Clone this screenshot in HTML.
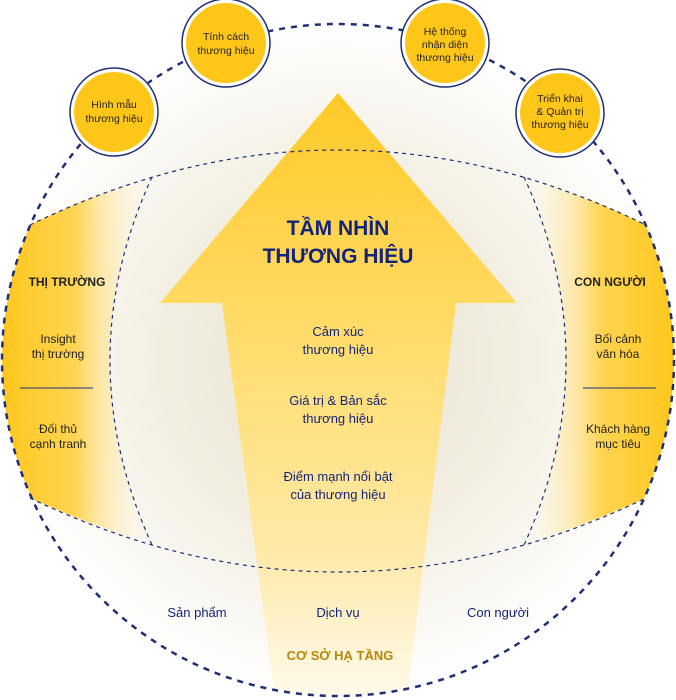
<!DOCTYPE html>
<html><head><meta charset="utf-8"><style>
html,body{margin:0;padding:0;background:#fff;}
svg{display:block;font-family:"Liberation Sans","Noto Sans CJK SC",sans-serif;}
</style></head><body>
<svg width="676" height="700" viewBox="0 0 676 700" xmlns="http://www.w3.org/2000/svg">
<defs>
<radialGradient id="bg" cx="338" cy="360" r="340" gradientUnits="userSpaceOnUse">
<stop offset="0" stop-color="#e6e1d2"/><stop offset="0.55" stop-color="#f3efe2"/><stop offset="1" stop-color="#ffffff"/>
</radialGradient>
<linearGradient id="lg" x1="0" y1="0" x2="150" y2="0" gradientUnits="userSpaceOnUse">
<stop offset="0" stop-color="#ffc61a"/><stop offset="0.5" stop-color="#ffd452"/><stop offset="1" stop-color="#fff6dc" stop-opacity="0"/>
</linearGradient>
<linearGradient id="rg" x1="676" y1="0" x2="526" y2="0" gradientUnits="userSpaceOnUse">
<stop offset="0" stop-color="#ffc61a"/><stop offset="0.5" stop-color="#ffd452"/><stop offset="1" stop-color="#fff6dc" stop-opacity="0"/>
</linearGradient>
<linearGradient id="ag" x1="0" y1="93" x2="0" y2="697" gradientUnits="userSpaceOnUse">
<stop offset="0" stop-color="#ffc926"/><stop offset="0.4" stop-color="#ffdc6a"/><stop offset="0.75" stop-color="#ffe9a6"/><stop offset="1" stop-color="#fffaeb"/>
</linearGradient>
<clipPath id="cc"><circle cx="338" cy="360" r="336"/></clipPath>
</defs>
<circle cx="338" cy="360" r="336" fill="url(#bg)"/>
<g clip-path="url(#cc)">
<path d="M0 225 L30 225 Q338 75 646 225 L676 225 L676 0 L0 0Z" fill="#fff" opacity="0"/>
<path d="M30 225 Q91 195 152 177 Q68 360 152 545 Q91 525 30 498 L0 498 L0 225Z" fill="url(#lg)"/>
<path d="M646 225 Q585 195 524 177 Q608 360 524 545 Q585 525 646 498 L676 498 L676 225Z" fill="url(#rg)"/>
<polygon points="338,93 517,303 456,303 407,697 275,697 222,303 160,303" fill="url(#ag)"/>
</g>
<g fill="none" stroke="#1f2f77" stroke-width="1.2" stroke-dasharray="4,4">
<path d="M30 225 Q338 75 646 225"/>
<path d="M30 498 Q338 646 646 498"/>
<path d="M152 177 Q68 360 152 545"/>
<path d="M524 177 Q608 360 524 545"/>
</g>
<circle cx="338" cy="360" r="336" fill="none" stroke="#1f2f77" stroke-width="2.5" stroke-dasharray="6,6"/>
<line x1="20" y1="388" x2="93" y2="388" stroke="#1f2f77" stroke-width="1"/>
<line x1="583" y1="388" x2="656" y2="388" stroke="#1f2f77" stroke-width="1"/>
<g>
<circle cx="114" cy="112" r="44" fill="#fff" stroke="#1f2f77" stroke-width="1.5"/><circle cx="114" cy="112" r="40" fill="#ffc61a"/>
<circle cx="226" cy="43" r="44" fill="#fff" stroke="#1f2f77" stroke-width="1.5"/><circle cx="226" cy="43" r="40" fill="#ffc61a"/>
<circle cx="445" cy="43" r="44" fill="#fff" stroke="#1f2f77" stroke-width="1.5"/><circle cx="445" cy="43" r="40" fill="#ffc61a"/>
<circle cx="560" cy="113" r="44" fill="#fff" stroke="#1f2f77" stroke-width="1.5"/><circle cx="560" cy="113" r="40" fill="#ffc61a"/>
</g>
<g font-size="10.5" fill="#222" text-anchor="middle">
<text x="114" y="108">Hình mẫu</text><text x="114" y="122">thương hiệu</text>
<text x="226" y="40">Tính cách</text><text x="226" y="54">thương hiệu</text>
<text x="445" y="35">Hệ thống</text><text x="445" y="48">nhận diện</text><text x="445" y="61">thương hiệu</text>
<text x="560" y="102">Triển khai</text><text x="560" y="115">&amp; Quản trị</text><text x="560" y="128">thương hiệu</text>
</g>
<g text-anchor="middle" fill="#14247a">
<text x="338" y="235" font-size="21" font-weight="bold">TẦM NHÌN</text>
<text x="338" y="263" font-size="21" font-weight="bold">THƯƠNG HIỆU</text>
<g font-size="13">
<text x="338" y="336">Cảm xúc</text><text x="338" y="354">thương hiệu</text>
<text x="338" y="405">Giá trị &amp; Bản sắc</text><text x="338" y="423">thương hiệu</text>
<text x="338" y="481">Điểm mạnh nổi bật</text><text x="338" y="499">của thương hiệu</text>
<text x="197" y="617">Sản phẩm</text><text x="338" y="617">Dịch vụ</text><text x="498" y="617">Con người</text>
</g>
<text x="340" y="660" font-size="13" font-weight="bold" fill="#b8860b">CƠ SỞ HẠ TẦNG</text>
</g>
<g text-anchor="middle" fill="#222" font-size="12">
<text x="67" y="286" font-weight="bold" font-size="12">THỊ TRƯỜNG</text>
<text x="58" y="343">Insight</text><text x="58" y="358">thị trường</text>
<text x="58" y="433">Đối thủ</text><text x="58" y="448">cạnh tranh</text>
<text x="610" y="286" font-weight="bold" font-size="12">CON NGƯỜI</text>
<text x="618" y="343">Bối cảnh</text><text x="618" y="358">văn hóa</text>
<text x="618" y="433">Khách hàng</text><text x="618" y="448">mục tiêu</text>
</g>
</svg>
</body></html>
